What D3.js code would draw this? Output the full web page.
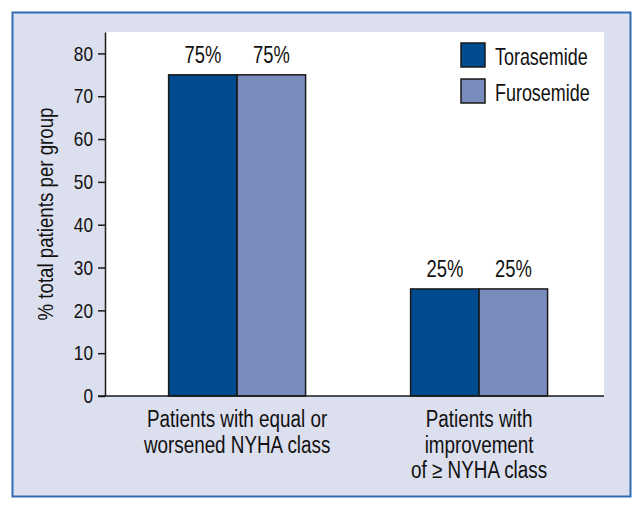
<!DOCTYPE html>
<html lang="en">
<head>
<meta charset="UTF-8">
<title>NYHA class change by diuretic</title>
<script src="https://d3js.org/d3.v7.min.js"></script>
<style>
    body { margin: 0; background: #ffffff; }
    svg { display: block; }
    text { font-family: "Liberation Sans", Arial, Helvetica, sans-serif; fill: #111111; }
</style>
</head>
<body>
<svg id="chart" width="643" height="510"></svg>
<script>
// data
const categories = [
    ["Patients with equal or", "worsened NYHA class"],
    ["Patients with", "improvement", "of \u2265 NYHA class"]
];
const seriesNames = ["Torasemide", "Furosemide"];
const torasemide = [75, 25];
const furosemide = [75, 25];
const yTicks = [0, 10, 20, 30, 40, 50, 60, 70, 80];
const colors = ["#004a8f", "#7a8bbe"];

const svg = d3.select("#chart");

// narrow look: plain sans squeezed sideways
function squeezed(parent, x, y, sx, extra) {
    return parent.append("text")
        .attr("transform", `translate(${x},${y})${extra || ""} scale(${sx},1)`);
}

// outer frame
svg.append("rect")
    .attr("x", 12.5).attr("y", 12.5)
    .attr("width", 618).attr("height", 484)
    .attr("fill", "#dcdfee")
    .attr("stroke", "#2f6cb3")
    .attr("stroke-width", 2);

const plot = {left: 105, right: 604, top: 32, bottom: 396};

// white plot area
svg.append("rect")
    .attr("x", plot.left).attr("y", plot.top)
    .attr("width", plot.right - plot.left)
    .attr("height", plot.bottom - plot.top)
    .attr("fill", "#ffffff");

const catKeys = categories.map((c, i) => "c" + i);

const x0 = d3.scaleBand()
    .domain(catKeys)
    .range([plot.left, plot.right])
    .paddingInner(0.434)
    .paddingOuter(0.248)
    .align(0.53);

const x1 = d3.scaleBand()
    .domain(seriesNames)
    .range([0, x0.bandwidth()])
    .padding(0);

const y = d3.scaleLinear()
    .domain([0, 85])
    .range([plot.bottom, plot.top]);

const rows = catKeys.map((k, i) => ({
    key: k,
    values: [
        {name: seriesNames[0], value: torasemide[i], color: colors[0]},
        {name: seriesNames[1], value: furosemide[i], color: colors[1]}
    ]
}));

const groups = svg.selectAll(".group")
    .data(rows)
    .enter().append("g")
    .attr("class", "group")
    .attr("transform", d => `translate(${x0(d.key)},0)`);

groups.selectAll("rect")
    .data(d => d.values)
    .enter().append("rect")
    .attr("x", d => x1(d.name))
    .attr("y", d => y(d.value))
    .attr("width", x1.bandwidth())
    .attr("height", d => y(0) - y(d.value))
    .attr("fill", d => d.color)
    .attr("stroke", "#1a1a1a")
    .attr("stroke-width", 1.5);

groups.each(function(d) {
    const g = d3.select(this);
    d.values.forEach(v => {
        squeezed(g, x1(v.name) + x1.bandwidth() / 2, y(v.value) - 12, 0.8)
            .attr("text-anchor", "middle")
            .attr("font-size", 23)
            .text(v.value + "%");
    });
});

// y axis
const yAxis = svg.append("g")
    .attr("transform", `translate(${plot.left},0)`)
    .call(d3.axisLeft(y).tickValues(yTicks).tickSize(7).tickSizeOuter(0).tickPadding(5));
yAxis.select(".domain").attr("stroke", "#1a1a1a").attr("stroke-width", 1.5);
yAxis.selectAll(".tick line").attr("stroke", "#1a1a1a").attr("stroke-width", 1.5);
yAxis.selectAll(".tick text")
    .attr("font-size", 21)
    .attr("font-family", "Liberation Sans, Arial, sans-serif")
    .attr("fill", "#111111")
    .attr("x", -12 / 0.82)
    .attr("transform", "scale(0.82,1)");

// x axis line
svg.append("line")
    .attr("x1", plot.left - 7).attr("x2", plot.right)
    .attr("y1", y(0)).attr("y2", y(0))
    .attr("stroke", "#1a1a1a")
    .attr("stroke-width", 1.5);

// category labels
categories.forEach((lines, i) => {
    const cx = x0(catKeys[i]) + x0.bandwidth() / 2;
    lines.forEach((ln, j) => {
        squeezed(svg, cx, 427 + j * 25.5, 0.82)
            .attr("text-anchor", "middle")
            .attr("font-size", 23)
            .text(ln);
    });
});

// y axis title
squeezed(svg, 53, 214, 0.85, " rotate(-90)")
    .attr("text-anchor", "middle")
    .attr("font-size", 22)
    .text("% total patients per group");

// legend
const legend = svg.selectAll(".legend")
    .data(seriesNames)
    .enter().append("g")
    .attr("class", "legend")
    .attr("transform", (d, i) => `translate(461,${43 + i * 36})`);
legend.append("rect")
    .attr("width", 24).attr("height", 24)
    .attr("fill", (d, i) => colors[i])
    .attr("stroke", "#1a1a1a")
    .attr("stroke-width", 1.5);
legend.each(function(d) {
    squeezed(d3.select(this), 34, 22, 0.78)
        .attr("font-size", 23)
        .text(d);
});
</script>
</body>
</html>
